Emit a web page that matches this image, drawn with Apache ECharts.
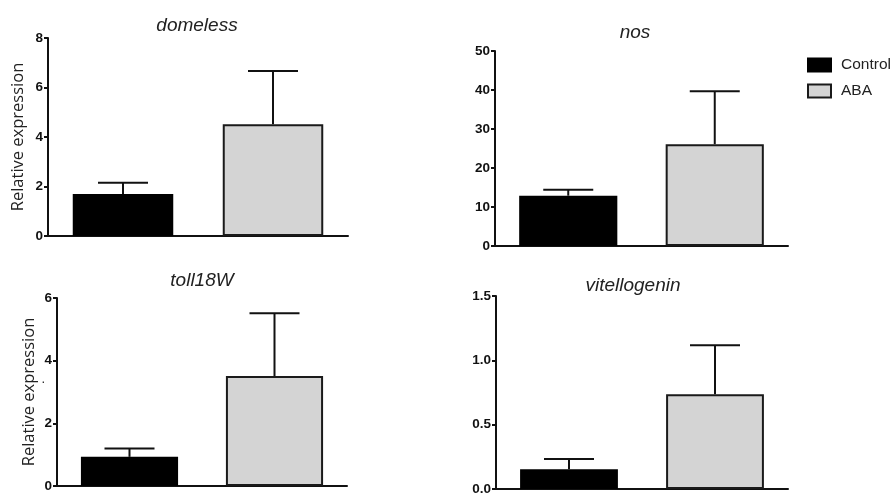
<!DOCTYPE html>
<html>
<head>
<meta charset="utf-8">
<script src="https://cdn.jsdelivr.net/npm/echarts@6/dist/echarts.min.js"></script>
<style>
  html, body { margin: 0; padding: 0; background: #fff; }
  #main { width: 893px; height: 496px; }
</style>
</head>
<body>
<div id="main"></div>
<script>
// genes, one per panel
var genes = ['domeless', 'nos', 'toll18W', 'vitellogenin'];
var groups = ['Control', 'ABA'];

// mean values (Control, ABA)
var controlMean = [1.70, 12.9, 0.93, 0.154];
var abaMean = [4.52, 26.1, 3.51, 0.737];
// upper error (SEM) added on top of the bars
var controlErr = [0.45, 1.5, 0.27, 0.08];
var abaErr = [2.15, 13.6, 2.0, 0.38];

// y axis ranges
var yMax = [8, 50, 6, 1.5];
var yStep = [2, 10, 2, 0.5];
var yDecimals = [0, 0, 0, 1];

// panel boxes
var boxes = [
	{ left: 48, top: 38, width: 300, height: 198 },
	{ left: 495, top: 51, width: 293, height: 195 },
	{ left: 57, top: 298, width: 290, height: 188 },
	{ left: 496, top: 296, width: 292, height: 195 }
];
var titlePos = [[192, 11], [630, 18], [197, 266], [628, 271]];
var axisName = ['Relative expression', '', 'Relative expression', ''];
var nameGaps = [21, 0, 19, 0];

var myChart = echarts.init(document.getElementById('main'));

function errorBar(params, api) {
	var x = api.value(0);
	var v = api.value(1);
	var e = api.value(2);
	var p0 = api.coord([x, v]);
	var p1 = api.coord([x, v + e]);
	var hw = 25;
	var st = { stroke: '#111', lineWidth: 2 };
	return {
		type: 'group',
		children: [
			{ type: 'line', shape: { x1: p0[0], y1: p0[1], x2: p1[0], y2: p1[1] }, style: st },
			{ type: 'line', shape: { x1: p1[0] - hw, y1: p1[1], x2: p1[0] + hw, y2: p1[1] }, style: st }
		]
	};
}

var grid = [], xAxis = [], yAxis = [], series = [], title = [];
for (var i = 0; i < genes.length; i++) {
	grid.push(boxes[i]);
	title.push({
		text: genes[i],
		left: titlePos[i][0],
		top: titlePos[i][1],
		textAlign: 'center',
		textStyle: { fontFamily: 'Liberation Sans', fontStyle: 'italic', fontWeight: 'normal', fontSize: 19, color: '#222' }
	});
	xAxis.push({
		type: 'category',
		gridIndex: i,
		data: groups,
		axisLine: { lineStyle: { color: '#111', width: 2 } },
		axisTick: { alignWithLabel: true, length: 6, lineStyle: { color: '#111', width: 2 } },
		axisLabel: { show: false },
		splitLine: { show: false }
	});
	(function(d) {
		yAxis.push({
			type: 'value',
			gridIndex: i,
			min: 0,
			max: yMax[i],
			interval: yStep[i],
			name: axisName[i],
			nameLocation: 'middle',
			nameGap: nameGaps[i],
			nameTextStyle: { fontFamily: 'Open Sans', fontSize: 16.5, color: '#222' },
			axisLine: { show: true, lineStyle: { color: '#111', width: 2 } },
			axisTick: { show: true, length: 4, lineStyle: { color: '#111', width: 2 } },
			axisLabel: {
				margin: 5,
				fontFamily: 'Liberation Sans',
				fontWeight: 'bold',
				fontSize: 13.5,
				color: '#111',
				formatter: function(v) { return v.toFixed(d); }
			},
			splitLine: { show: false }
		});
	})(yDecimals[i]);

	series.push({
		name: 'Control',
		type: 'bar',
		xAxisIndex: i,
		yAxisIndex: i,
		barWidth: '67%',
		barGap: '-100%',
		itemStyle: { color: '#000', borderColor: '#000', borderWidth: 2 },
		data: [controlMean[i], '-']
	});
	series.push({
		name: 'ABA',
		type: 'bar',
		xAxisIndex: i,
		yAxisIndex: i,
		barWidth: '67%',
		barGap: '-100%',
		itemStyle: { color: '#d4d4d4', borderColor: '#1a1a1a', borderWidth: 2 },
		data: ['-', abaMean[i]]
	});
	series.push({
		type: 'custom',
		xAxisIndex: i,
		yAxisIndex: i,
		renderItem: errorBar,
		z: 3,
		data: [[0, controlMean[i], controlErr[i]], [1, abaMean[i], abaErr[i]]]
	});
}

var option = {
	backgroundColor: '#fff',
	animation: false,
	title: title,
	legend: {
		data: groups,
		orient: 'vertical',
		left: 807,
		top: 57,
		padding: 0,
		icon: 'rect',
		itemWidth: 23,
		itemHeight: 13,
		itemGap: 10,
		textStyle: { fontFamily: 'Liberation Sans', fontSize: 15.5, color: '#222', padding: [0, 0, 0, 5] }
	},
	grid: grid,
	xAxis: xAxis,
	yAxis: yAxis,
	graphic: [
		{ type: 'text', left: 41, top: 375, style: { text: '·', fontSize: 14, fill: '#333' } }
	],
	series: series
};

myChart.setOption(option);
window.addEventListener('resize', function() {
	myChart.resize();
});
</script>
</body>
</html>
